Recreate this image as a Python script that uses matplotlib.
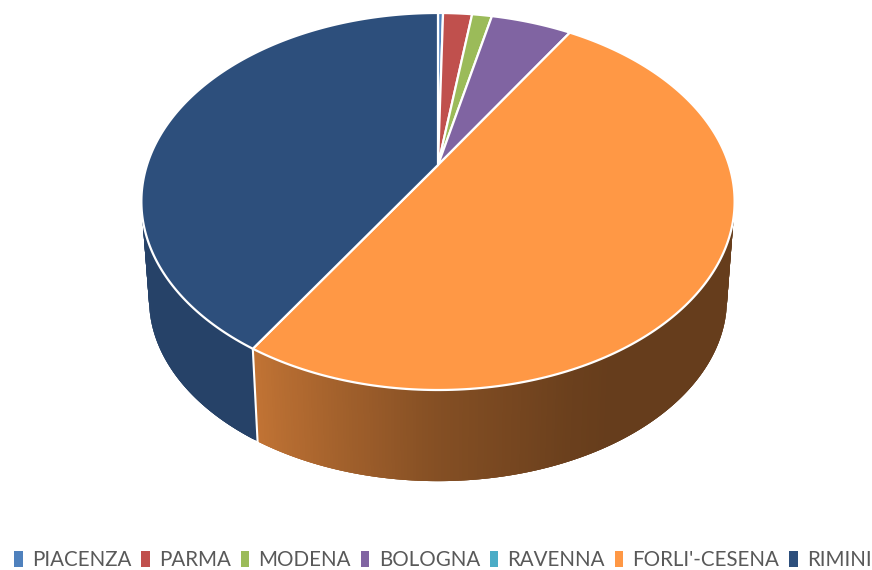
import matplotlib

matplotlib.use("Agg")
import matplotlib.pyplot as plt
import numpy as np
from matplotlib.patches import Patch

provinces = ["PIACENZA", "PARMA", "MODENA", "BOLOGNA", "RAVENNA", "FORLI'-CESENA", "RIMINI"]
shares = [0.33, 1.9, 1.3, 5.3, 0.0, 50.0, 41.0]  # percent
colors = ["#4F81BD", "#C0504D", "#9BBB59", "#8064A2", "#4BACC6", "#FF9845", "#2D4F7C"]

# brightness of the orange wall going round the front (angle clockwise from top)
wall_angles = [150, 158, 180, 212]
wall_shade = [0.40, 0.42, 0.52, 0.76]
rimini_shade = 0.84

# tilted disc: projective map of the unit circle, in pixel coordinates
CX = 438
PERSP = 0.1936


def rim(theta, a, b, w):
    t = np.radians(theta)
    d = 1 + PERSP * np.cos(t)
    return CX + w * np.sin(t) / d, (a * np.cos(t) + b) / d


def top(theta):
    return rim(theta, -149.5, 165, 291)


def bottom(theta):
    return rim(theta, -124.0, 264.0, 283.5)


fig = plt.figure(figsize=(8.72, 5.70), dpi=100)
ax = fig.add_axes([0, 0, 1, 1])
ax.set_xlim(0, 872)
ax.set_ylim(570, 0)
ax.axis("off")

total = sum(shares)
ends = np.cumsum(shares) / total * 360
starts = ends - np.array(shares) / total * 360

# side wall, thin overlapping strips so the shading can vary without seams
for i, name in enumerate(provinces):
    start = max(starts[i], 45)
    end = min(ends[i], 315)
    if end <= start:
        continue
    base = np.array(matplotlib.colors.to_rgb(colors[i]))
    for t0 in np.arange(start, end, 0.5):
        t1 = min(t0 + 1.5, end)
        if name == "RIMINI":
            shade = rimini_shade
        else:
            shade = np.interp(t0, wall_angles, wall_shade)
        x0, y0 = top(t0)
        x1, y1 = top(t1)
        x2, y2 = bottom(t1)
        x3, y3 = bottom(t0)
        ax.fill([x0, x1, x2, x3], [y0, y1, y2, y3], color=base * shade, lw=0, zorder=1)

# white seam where the two walls meet
seam = ends[5]
sx0, sy0 = top(seam)
sx1, sy1 = bottom(seam)
ax.plot([sx0, sx1], [sy0, sy1], color="white", lw=1.5, zorder=2)

# top face
apex = (CX, 165)
for i in range(len(provinces)):
    if shares[i] == 0:
        continue
    angles = np.linspace(starts[i], ends[i], max(int(shares[i] * 4), 3))
    xs, ys = top(angles)
    ax.fill(
        np.r_[apex[0], xs],
        np.r_[apex[1], ys],
        facecolor=colors[i],
        edgecolor="white",
        lw=1.6,
        joinstyle="round",
        zorder=3,
    )

handles = [Patch(facecolor=c, edgecolor="none") for c in colors]
fig.legend(
    handles,
    provinces,
    loc="lower center",
    bbox_to_anchor=(0.508, -0.022),
    ncol=7,
    frameon=False,
    prop={"family": "Lato", "size": 14.8},
    labelcolor="#595959",
    handlelength=0.42,
    handleheight=0.8,
    handletextpad=0.45,
    columnspacing=0.47,
    borderpad=0.1,
)

fig.savefig("out.png", dpi=100)
